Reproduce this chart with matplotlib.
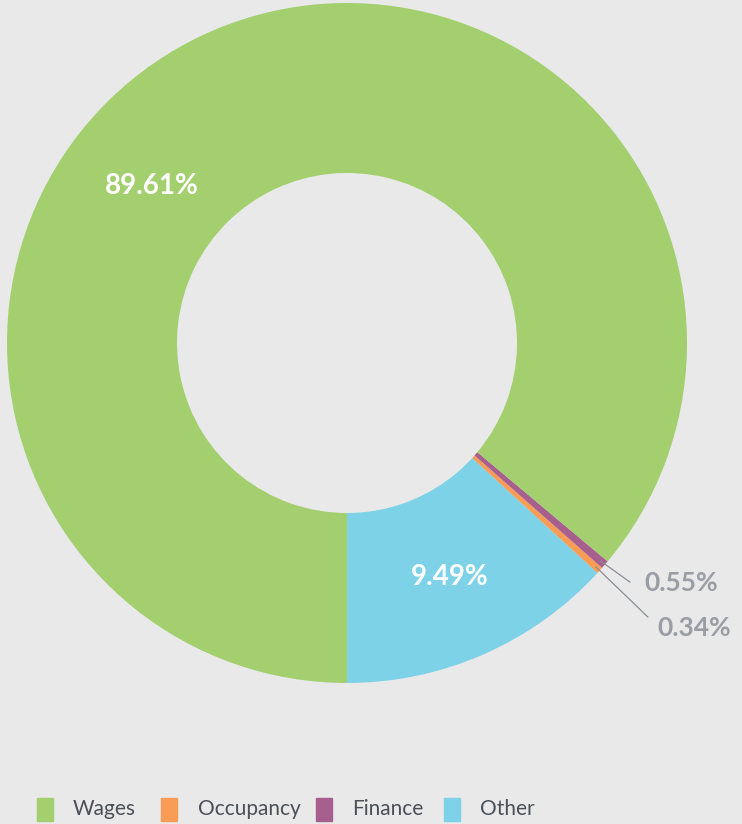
import numpy as np
import matplotlib
matplotlib.use("Agg")
import matplotlib.pyplot as plt
from matplotlib.patches import Rectangle

# legend order
categories = ["Wages", "Occupancy", "Finance", "Other"]
# slice sizes as drawn in the picture (labels read separately)
sizes = [86.10, 0.32, 0.40, 13.18]
labels = ["89.61%", "0.34%", "0.55%", "9.49%"]
colors = ["#a3cf6f", "#f99c55", "#a75f8e", "#7dd2e8"]

bg = "#e9e9e9"
plt.rcParams["font.family"] = ["Lato", "DejaVu Sans"]

fig = plt.figure(figsize=(7.42, 8.24), dpi=100)
fig.patch.set_facecolor(bg)
W, H = 742, 824
cx, cy, R = 347, 343, 340
ax = fig.add_axes([(cx - R) / W, (H - cy - R) / H, 2 * R / W, 2 * R / H])
ax.set_facecolor(bg)
ax.axis("off")

# drawn counterclockwise from 6 o'clock: Other, Occupancy, Finance, Wages
order = [3, 1, 2, 0]
wedges, _ = ax.pie([sizes[i] for i in order], colors=[colors[i] for i in order],
                   startangle=-90, counterclock=True, radius=1.0,
                   wedgeprops=dict(width=0.5, linewidth=0))
ax.set_xlim(-1, 1)
ax.set_ylim(-1, 1)
ax.set_aspect("equal")

# inside labels
ax.text(-0.574, 0.462, labels[0], color="white", fontsize=20, fontweight="bold",
        ha="center", va="center")
ax.text(0.303, -0.688, labels[3], color="white", fontsize=20, fontweight="bold",
        ha="center", va="center")

# outside labels for thin slices
grey = "#9a9ea4"
w_occ, w_fin = wedges[1], wedges[2]
for w, end, txt_pos, lab in [(w_fin, (0.832, -0.703), (0.876, -0.706), labels[2]),
                             (w_occ, (0.885, -0.806), (0.912, -0.838), labels[1])]:
    a = np.deg2rad((w.theta1 + w.theta2) / 2)
    start = (0.985 * np.cos(a), 0.985 * np.sin(a))
    ax.plot([start[0], end[0]], [start[1], end[1]], color="#8a8e94", lw=0.9,
            clip_on=False)
    ax.text(txt_pos[0], txt_pos[1], lab, color=grey, fontsize=19, fontweight="bold",
            ha="left", va="center")

# legend row at the bottom
sq_x = [37, 161, 316, 444]
tx_x = [73, 198, 352, 480]
for i, cat in enumerate(categories):
    fig.patches.append(Rectangle((sq_x[i] / W, (H - 821) / H), 16 / W, 23 / H,
                                 transform=fig.transFigure, color=colors[i]))
    fig.text(tx_x[i] / W, (H - 809) / H, cat, color="#4b4f58", fontsize=15,
             ha="left", va="center")

fig.savefig("out.png", dpi=100, facecolor=bg)
